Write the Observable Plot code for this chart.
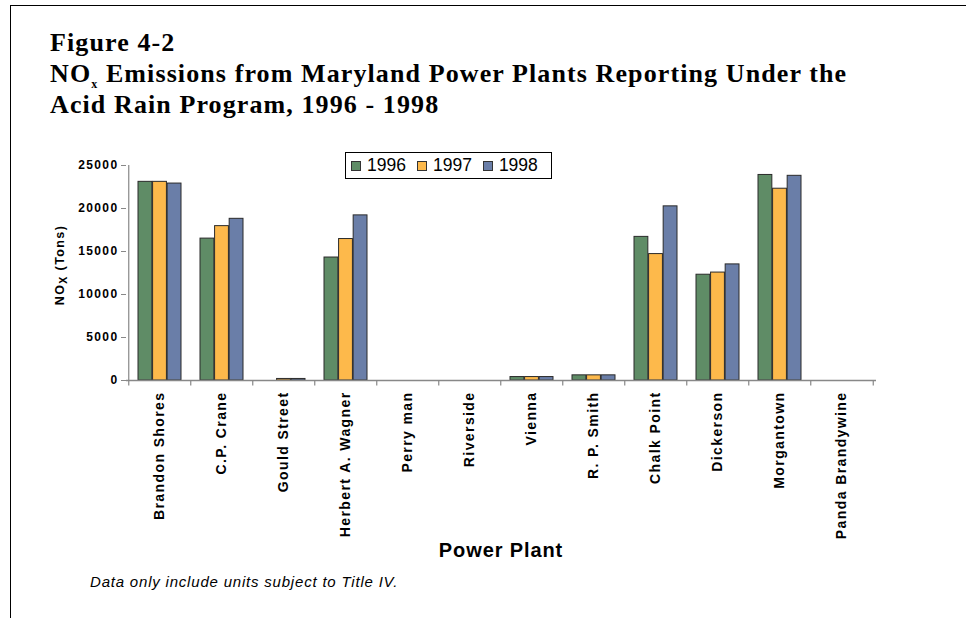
<!DOCTYPE html>
<html>
<head>
<meta charset="utf-8">
<script src="https://cdn.jsdelivr.net/npm/d3@7"></script>
<script src="https://cdn.jsdelivr.net/npm/@observablehq/plot@0.6"></script>
<style>
  html, body { margin: 0; padding: 0; background: #fff; }
  #page { position: relative; width: 966px; height: 618px; overflow: hidden; font-family: "Liberation Sans", Arial, sans-serif; }
  #frame { position: absolute; left: 10px; top: 5px; width: 1000px; height: 700px; border-left: 1.5px solid #000; border-top: 1.5px solid #000; }
  #title { position: absolute; left: 50px; top: 27px; font-family: "Liberation Serif", "DejaVu Serif", serif; font-weight: bold; font-size: 26px; letter-spacing: 1.1px; line-height: 31px; color: #000; }
  #title sub { font-size: 12px; vertical-align: -6px; line-height: 0; }
  #chart { position: absolute; left: 0; top: 140px; }
  #chart svg { overflow: visible; }
  #ylabel { position: absolute; left: 60px; top: 265px; transform: translate(-50%, -50%) rotate(-90deg); font-weight: bold; font-size: 12.5px; letter-spacing: 1.4px; white-space: nowrap; }
  #ylabel sub { font-size: 10.5px; vertical-align: -3px; line-height: 0; }
  #xlabel { position: absolute; left: 501px; top: 550px; transform: translate(-50%, -50%); font-weight: bold; font-size: 20px; letter-spacing: 0.9px; white-space: nowrap; }
  #caption { position: absolute; left: 90px; top: 573px; font-style: italic; font-size: 15px; letter-spacing: 0.8px; white-space: nowrap; }
  #legend { position: absolute; left: 345px; top: 152px; width: 207px; height: 27px; border: 1px solid #000; background: #fff; display: flex; align-items: center; box-sizing: border-box; padding-left: 5px; font-size: 17.5px; }
  #legend .item { display: flex; align-items: center; margin-right: 11px; }
  #legend .sw { width: 8px; height: 8px; border: 1px solid #333; margin-right: 6px; }
  g[aria-label="x-axis"] text, g[aria-label="x-axis tick label"] text { font-size: 14px; letter-spacing: 1.4px; font-weight: bold; }
  g[aria-label="y-axis"] text, g[aria-label="y-axis tick label"] text { font-size: 12px; letter-spacing: 1.4px; font-weight: bold; }
  g[aria-label="y-axis"] line, g[aria-label="y-axis tick"] path { stroke: #888; }
</style>
</head>
<body>
<div id="page">
  <div id="frame"></div>
  <div id="title">Figure 4-2<br>NO<sub>x</sub> Emissions from Maryland Power Plants Reporting Under the<br>Acid Rain Program, 1996 - 1998</div>
  <div id="chart"></div>
  <div id="ylabel">NO<sub>X</sub> (Tons)</div>
  <div id="legend"></div>
  <div id="xlabel">Power Plant</div>
  <div id="caption">Data only include units subject to Title IV.</div>
</div>
<script>
const plants = ["Brandon Shores", "C.P. Crane", "Gould Street", "Herbert A. Wagner", "Perry man", "Riverside", "Vienna", "R. P. Smith", "Chalk Point", "Dickerson", "Morgantown", "Panda Brandywine"];
const years = ["1996", "1997", "1998"];
const nox1996 = [23100, 16500, 0, 14300, 0, 0, 400, 600, 16700, 12300, 23900, 0];
const nox1997 = [23100, 17950, 180, 16450, 0, 0, 400, 600, 14700, 12550, 22300, 0];
const nox1998 = [22900, 18800, 180, 19200, 0, 0, 400, 600, 20250, 13500, 23800, 0];
const yTicks = [0, 5000, 10000, 15000, 20000, 25000];
const colors = ["#5F8C66", "#FDB94B", "#6A7EA8"];

const series = [nox1996, nox1997, nox1998];
const data = plants.flatMap((p, i) => years.map((yr, k) => ({plant: p, year: yr, value: series[k][i]})));

const W = 966, mL = 126, mR = 90;
const padIn = 0.3, padOut = 0.15;
const step = (W - mL - mR) / (plants.length - padIn + 2 * padOut);
const bw = step * (1 - padIn);

const bars = years.map((yr, k) => Plot.barY(data.filter(d => d.year === yr && d.value > 0), {
  x: "plant", y: "value", fill: colors[k], stroke: "#2a2a2a", strokeWidth: 1,
  insetLeft: k * bw / 3, insetRight: (2 - k) * bw / 3
}));

const chart = Plot.plot({
  width: W, height: 420,
  marginLeft: mL, marginRight: mR, marginTop: 25, marginBottom: 180,
  style: {fontFamily: "Liberation Sans, Arial, sans-serif", fontWeight: "bold", background: "transparent", color: "#000"},
  x: {domain: plants, paddingInner: padIn, paddingOuter: padOut, tickSize: 0, tickRotate: -90, tickPadding: 11, label: null},
  y: {domain: [0, 25000], ticks: yTicks, tickFormat: d => String(d), tickSize: 5, tickPadding: 3, label: null},
  marks: [
    ...bars,
    Plot.ruleY([0], {stroke: "#888", strokeWidth: 1.5}),
    Plot.ruleX([plants[0]], {dx: -step / 2, y1: 0, y2: 25000, stroke: "#888", strokeWidth: 1.2}),
    Plot.ruleX(plants, {dx: -step / 2, y1: 0, y2: -650, stroke: "#888", strokeWidth: 1.2}),
    Plot.ruleX([plants[plants.length - 1]], {dx: step / 2, y1: 0, y2: -650, stroke: "#888", strokeWidth: 1.2})
  ]
});
document.getElementById("chart").appendChild(chart);

const legend = document.getElementById("legend");
years.forEach((yr, k) => {
  const it = document.createElement("div");
  it.className = "item";
  it.innerHTML = `<span class="sw" style="background:${colors[k]}"></span><span>${yr}</span>`;
  legend.appendChild(it);
});
</script>
</body>
</html>
